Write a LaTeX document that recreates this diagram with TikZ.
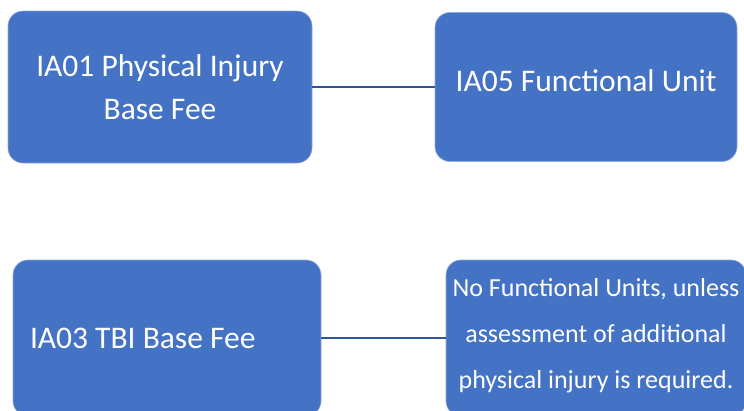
\documentclass[tikz,border=0pt]{standalone}
\usepackage{fontspec}
\setmainfont{Carlito}
\usepackage{tikz}
\definecolor{bleu}{HTML}{4472C4}
\definecolor{bleufonce}{HTML}{2F5597}
\tikzstyle{boite} = [rectangle, rounded corners=15pt, fill=bleu, draw=bleu!60!white, line width=0.6pt, text=white, align=center, inner sep=0pt]
\tikzstyle{grand} = [font=\fontsize{31.5}{43}\selectfont]
\tikzstyle{petit} = [font=\fontsize{26}{46}\selectfont]
\tikzstyle{lien} = [draw=bleufonce, line width=2.4pt]

\begin{document}
\begin{tikzpicture}[x=1pt, y=-1pt]

        \clip (0,0) rectangle (744,410);
        \fill[white] (0,0) rectangle (744,410);

        %% top row
        \node (E1) [boite, grand, minimum width=304pt, minimum height=152pt] at (160,87)
            {IA01 Physical Injury\\ Base Fee};
        \node (E2) [boite, grand, minimum width=302pt, minimum height=149pt, text depth=12pt] at (586,87)
            {IA05 Functional Unit};

        %% bottom row
        \node (E3) [boite, grand, minimum width=308pt, minimum height=156pt, text width=274pt, align=flush left] at (167,338)
            {IA03 TBI Base Fee};
        \node (E4) [boite, petit, minimum width=300pt, minimum height=156pt, text depth=10pt] at (596,338)
            {No Functional Units, unless\\ assessment of additional\\ physical injury is required.};

        %% relations
        \draw[lien] (E1) -- (E2);
        \draw[lien] (E3) -- (E4);

\end{tikzpicture}
\end{document}
